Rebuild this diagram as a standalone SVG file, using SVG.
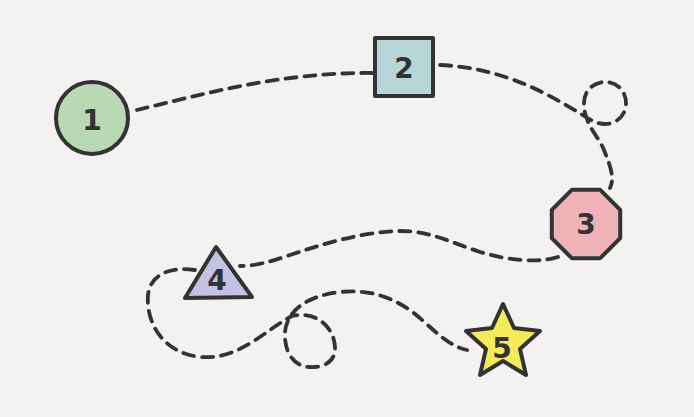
<svg xmlns="http://www.w3.org/2000/svg" width="694" height="417" viewBox="0 0 694 417">
<style>
.shape{stroke:#333;stroke-width:4;stroke-linejoin:round}
.lbl{font-family:"DejaVu Sans",sans-serif;font-size:28px;font-weight:bold;fill:#333;text-anchor:middle;dominant-baseline:central}
.dash{fill:none;stroke:#333;stroke-width:3.8;stroke-dasharray:11 8;stroke-linecap:round}
</style>
<rect width="694" height="417" fill="#f3f2f0"/>
<g id="connectors">
<path class="dash" d="M137,110 C200,95 280,72 372,73"/>
<path class="dash" d="M440,65 C505,68 550,95 586,117 C592,121 598,124 605,124 C617,124 626,115 626,103 C626,91 617,82 605,82 C593,82 584,91 584,103 C584,125 598,135 604,150 C610,165 615,178 610,188"/>
<path class="dash" d="M558,257 C540,263 510,261 480,252 C450,242 430,231 400,231 C360,232 320,245 290,255 C270,262 255,266 240,266"/>
<path class="dash" d="M195,270 C170,266 150,275 148,295 C146,320 160,352 200,357 C240,360 265,330 292,316 C318,310 336,330 335,350 C334,363 322,368 309,367 C292,366 284,350 285,332 C287,312 305,296 340,292 C370,289 390,297 410,310 C430,325 445,345 467,350"/>
</g>
<g id="node1">
<circle class="shape" cx="92" cy="118" r="36" fill="#b9d8b4"/>
<text class="lbl" x="92" y="120">1</text>
</g>
<g id="node2">
<rect class="shape" x="375" y="38" width="58" height="58" fill="#b8d5d8"/>
<text class="lbl" x="404" y="68">2</text>
</g>
<g id="node3">
<polygon class="shape" points="600.2,189.8 620.2,209.8 620.2,238.2 600.2,258.2 571.8,258.2 551.8,238.2 551.8,209.8 571.8,189.8" fill="#efb2b6"/>
<text class="lbl" x="586" y="224">3</text>
</g>
<g id="node4">
<polygon class="shape" points="216,247 185,298 252,297" fill="#c3c2e2"/>
<text class="lbl" x="217" y="280">4</text>
</g>
<g id="node5">
<polygon class="shape" points="503,304 514,328 540,331 520,349 526,375 503,361 480,375 486,349 466,331 492,328" fill="#f5ea5c"/>
<text class="lbl" x="502" y="348">5</text>
</g>
</svg>
